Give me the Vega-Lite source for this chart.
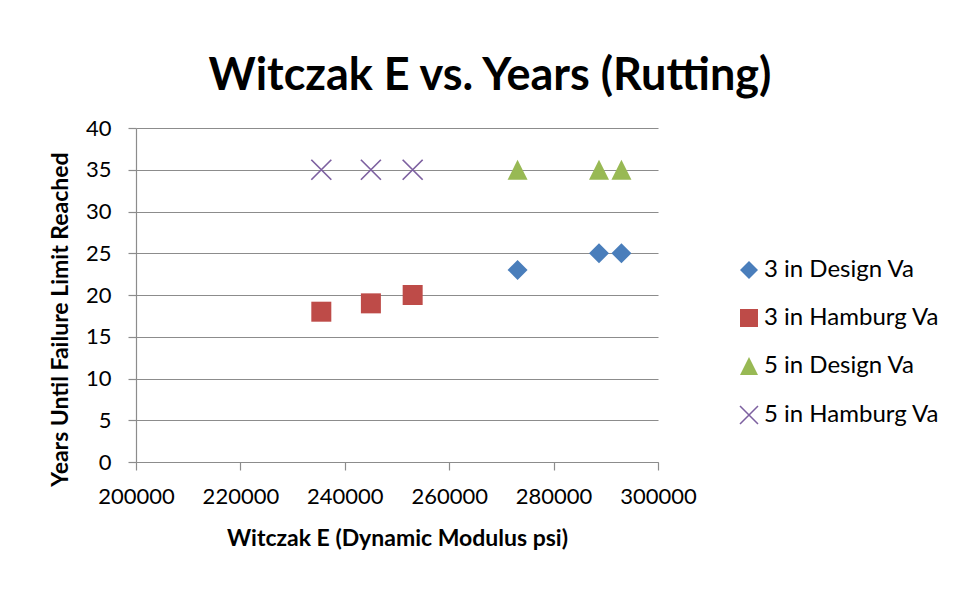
{
  "$schema": "https://vega.github.io/schema/vega-lite/v6.json",
  "width": 522,
  "height": 334,
  "autosize": {"type": "none"},
  "padding": {"left": 136, "top": 128, "right": 314, "bottom": 130},
  "background": "white",
  "title": {
    "text": "Witczak E vs. Years (Rutting)",
    "font": "Lato",
    "fontSize": 45,
    "fontWeight": "bold",
    "color": "black",
    "anchor": "middle",
    "baseline": "alphabetic",
    "dx": 93,
    "offset": -18
  },
  "config": {
    "view": {"stroke": null},
    "axis": {
      "labelFont": "Lato",
      "labelFontSize": 22,
      "labelColor": "black",
      "labelOverlap": false,
      "labelFlush": false,
      "titleFont": "Lato",
      "titleFontSize": 23,
      "titleFontWeight": "bold",
      "titleColor": "black",
      "domainColor": "#8c8c8c",
      "tickColor": "#8c8c8c",
      "gridColor": "#8c8c8c",
      "domainWidth": 1.2,
      "tickWidth": 1.2,
      "gridWidth": 1.2,
      "tickSize": 8
    }
  },
  "data": {
    "values": [
      {"series": "3 in Design Va", "e": 273100, "years": 23},
      {"series": "3 in Design Va", "e": 288700, "years": 25},
      {"series": "3 in Design Va", "e": 293000, "years": 25},
      {"series": "3 in Hamburg Va", "e": 235500, "years": 18},
      {"series": "3 in Hamburg Va", "e": 245000, "years": 19},
      {"series": "3 in Hamburg Va", "e": 253000, "years": 20},
      {"series": "5 in Design Va", "e": 273100, "years": 35},
      {"series": "5 in Design Va", "e": 288700, "years": 35},
      {"series": "5 in Design Va", "e": 293000, "years": 35},
      {"series": "5 in Hamburg Va", "e": 235500, "years": 35},
      {"series": "5 in Hamburg Va", "e": 245000, "years": 35},
      {"series": "5 in Hamburg Va", "e": 253000, "years": 35}
    ]
  },
  "mark": {"type": "point", "filled": true, "opacity": 1, "size": 400},
  "encoding": {
    "x": {
      "field": "e",
      "type": "quantitative",
      "scale": {"domain": [200000, 300000], "nice": false, "zero": false},
      "axis": {
        "values": [200000, 220000, 240000, 260000, 280000, 300000],
        "format": "d",
        "grid": false,
        "labelPadding": 16,
        "title": "Witczak E (Dynamic Modulus psi)",
        "titleBaseline": "alphabetic",
        "titleY": 83
      }
    },
    "y": {
      "field": "years",
      "type": "quantitative",
      "scale": {"domain": [0, 40], "nice": false},
      "axis": {
        "values": [0, 5, 10, 15, 20, 25, 30, 35, 40],
        "grid": true,
        "labelPadding": 17,
        "title": "Years Until Failure Limit Reached",
        "titleAngle": -90,
        "titleBaseline": "alphabetic",
        "titleAlign": "center",
        "titleX": -69,
        "titleY": 191
      }
    },
    "color": {
      "field": "series",
      "type": "nominal",
      "scale": {
        "domain": ["3 in Design Va", "3 in Hamburg Va", "5 in Design Va", "5 in Hamburg Va"],
        "range": ["#4a7ebb", "#be4b48", "#98b954", "#7d60a0"]
      },
      "legend": {
        "title": null,
        "orient": "none",
        "legendX": 601,
        "legendY": 130,
        "padding": 0,
        "symbolSize": 324,
        "labelFont": "Lato",
        "labelFontSize": 24,
        "labelColor": "black",
        "labelLimit": 400,
        "labelOffset": 3,
        "rowPadding": 24,
        "symbolOpacity": 1
      }
    },
    "shape": {
      "field": "series",
      "type": "nominal",
      "scale": {
        "domain": ["3 in Design Va", "3 in Hamburg Va", "5 in Design Va", "5 in Hamburg Va"],
        "range": [
          "diamond",
          "square",
          "M0,-1L1,1L-1,1Z",
          "M-1.06,-0.94L0.94,1.06L1.06,0.94L-0.94,-1.06ZM-0.94,1.06L1.06,-0.94L0.94,-1.06L-1.06,0.94Z"
        ]
      },
      "legend": {
        "title": null,
        "orient": "none",
        "legendX": 601,
        "legendY": 130
      }
    }
  }
}
